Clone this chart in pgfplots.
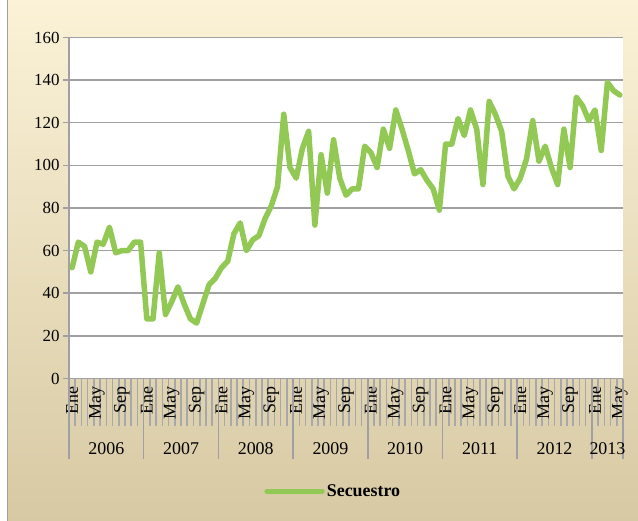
\documentclass[border=0pt]{standalone}
\usepackage{pgfplots}
\pgfplotsset{compat=1.18}
\usepackage{fontspec}
\setmainfont{Liberation Serif}
\definecolor{linegreen}{RGB}{146,201,85}
\definecolor{gridgray}{RGB}{160,160,164}
\definecolor{tickgray}{RGB}{168,168,172}
\definecolor{bgtop}{RGB}{251,242,215}
\definecolor{bgbot}{RGB}{215,201,163}
\tikzset{yearlab/.style={font=\fontsize{18}{18}\selectfont, anchor=center, yshift=-70bp}}
\begin{document}
\begin{tikzpicture}
\fill[white] (0,0) rectangle (638bp,520bp);
\shade[top color=bgtop, bottom color=bgbot] (7bp,0) rectangle (638bp,520bp);
\draw[gridgray, line width=1bp] (7.5bp,0) -- (7.5bp,520bp);
\useasboundingbox (0,0) rectangle (638bp,520bp);
\begin{axis}[
  at={(69bp,142bp)}, anchor=south west,
  scale only axis, width=554bp, height=341bp,
  xmin=0, xmax=89, ymin=0, ymax=160,
  axis lines*=left,
  axis line style={gridgray, line width=1.5bp},
  axis background/.style={fill=white},
  clip=false,
  tick align=outside,
  major tick length=6bp,
  minor tick length=47bp,
  ytick={0,20,...,160},
  ymajorgrids,
  grid style={gridgray, line width=1.5bp},
  y tick style={gridgray, line width=1.5bp},
  xtick={0.5,4.5,...,88.5},
  xticklabels={Ene,May,Sep,Ene,May,Sep,Ene,May,Sep,Ene,May,Sep,Ene,May,Sep,Ene,May,Sep,Ene,May,Sep,Ene,May},
  major x tick style={draw=none},
  minor xtick={0,1,...,89},
  minor x tick style={tickgray, line width=1.6bp},
  extra x ticks={0,12,24,36,48,60,72,84,89},
  extra x tick labels={},
  extra x tick style={major tick length=80bp, major x tick style={draw=gridgray, line width=1.6bp}},
  /pgf/number format/assume math mode=true,
  yticklabel style={font=\fontsize{17}{17}\selectfont, text=black},
  xticklabel style={rotate=90, anchor=east, font=\fontsize{18}{18}\selectfont, text=black, inner sep=1.5bp},
  legend style={draw=none, fill=none, at={(0.477,-0.331)}, anchor=center,
    font=\bfseries\fontsize{18}{18}\selectfont},
  legend image code/.code={\draw[#1, line cap=round] (0bp,0bp) -- (55bp,0bp);},
]
\addplot[linegreen, line width=5.5bp, line join=round, line cap=round] coordinates {
(0.5,52)(1.5,64)(2.5,62)(3.5,50)(4.5,64)(5.5,63)(6.5,71)(7.5,59)(8.5,60)(9.5,60)(10.5,64)(11.5,64)
(12.5,28)(13.5,28)(14.5,59)(15.5,30)(16.5,36)(17.5,43)(18.5,35)(19.5,28)(20.5,26)(21.5,35)(22.5,44)(23.5,47)
(24.5,52)(25.5,55)(26.5,68)(27.5,73)(28.5,60)(29.5,65)(30.5,67)(31.5,75)(32.5,81)(33.5,90)(34.5,124)(35.5,99)
(36.5,94)(37.5,108)(38.5,116)(39.5,72)(40.5,105)(41.5,87)(42.5,112)(43.5,94)(44.5,86)(45.5,89)(46.5,89)(47.5,109)
(48.5,106)(49.5,99)(50.5,117)(51.5,108)(52.5,126)(53.5,117)(54.5,107)(55.5,96)(56.5,98)(57.5,93)(58.5,89)(59.5,79)
(60.5,110)(61.5,110)(62.5,122)(63.5,114)(64.5,126)(65.5,117)(66.5,91)(67.5,130)(68.5,124)(69.5,116)(70.5,95)(71.5,89)
(72.5,94)(73.5,103)(74.5,121)(75.5,102)(76.5,109)(77.5,99)(78.5,91)(79.5,117)(80.5,99)(81.5,132)(82.5,128)(83.5,121)
(84.5,126)(85.5,107)(86.5,139)(87.5,135)(88.5,133)
};
\addlegendentry{Secuestro}
\node[yearlab] at (axis cs:6,0) {2006};
\node[yearlab] at (axis cs:18,0) {2007};
\node[yearlab] at (axis cs:30,0) {2008};
\node[yearlab] at (axis cs:42,0) {2009};
\node[yearlab] at (axis cs:54,0) {2010};
\node[yearlab] at (axis cs:66,0) {2011};
\node[yearlab] at (axis cs:78,0) {2012};
\node[yearlab] at (axis cs:86.5,0) {2013};
\end{axis}
\end{tikzpicture}
\end{document}
